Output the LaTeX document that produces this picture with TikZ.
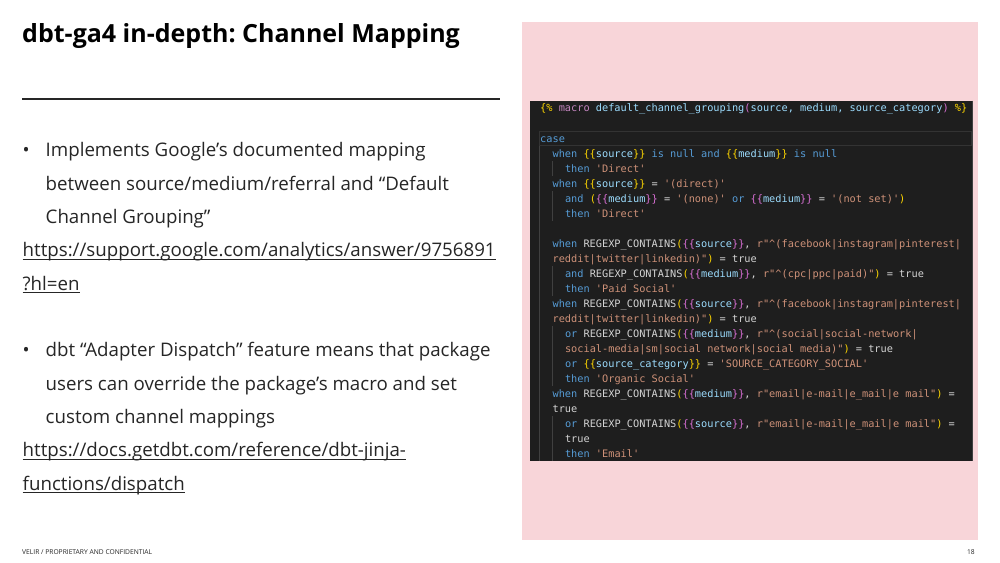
\documentclass[tikz,border=0pt]{standalone}
\usepackage{fontspec}
\setmainfont{Open Sans}
\newfontfamily\codefont{DejaVu Sans Mono}
\frenchspacing
\definecolor{pinkbg}{RGB}{248,213,217}
\definecolor{codebg}{HTML}{1E1E1E}
\definecolor{guide}{HTML}{404040}
\definecolor{bodytxt}{HTML}{262626}
\definecolor{ckwc}{HTML}{569CD6}
\definecolor{cvarc}{HTML}{9CDCFE}
\definecolor{cstrc}{HTML}{CE9178}
\definecolor{cylc}{HTML}{FFD700}
\definecolor{cmgc}{HTML}{DA70D6}
\definecolor{cwtc}{HTML}{D4D4D4}
\definecolor{cmacc}{HTML}{C586C0}
\newcommand{\ckw}[1]{\textcolor{ckwc}{#1}}
\newcommand{\cvar}[1]{\textcolor{cvarc}{#1}}
\newcommand{\cstr}[1]{\textcolor{cstrc}{#1}}
\newcommand{\cyl}[1]{\textcolor{cylc}{#1}}
\newcommand{\cmg}[1]{\textcolor{cmgc}{#1}}
\newcommand{\cwt}[1]{\textcolor{cwtc}{#1}}
\newcommand{\cmac}[1]{\textcolor{cmacc}{#1}}
\newcommand{\sq}{\textquotesingle}
\newcommand{\dq}{\textquotedbl}
\newcommand{\crt}{\textasciicircum}
\newcommand{\ob}{\{\{}
\newcommand{\cb}{\}\}}
\newcommand{\rgx}{REGEXP\_CONTAINS}
\tikzset{
  codeline/.style={anchor=base west, inner sep=0pt, text=cwtc,
    font=\codefont\fontsize{10.28}{12}\selectfont},
  bodyline/.style={anchor=base west, inner sep=0pt, text=bodytxt,
    font=\fontsize{18.7}{22}\selectfont},
  bulletdot/.style={anchor=base west, inner sep=0pt, text=bodytxt,
    font=\fontsize{18.7}{22}\selectfont},
  uline/.style={draw=bodytxt, line width=0.9pt},
  footline/.style={inner sep=0pt, text=bodytxt, font=\fontsize{6.7}{8}\selectfont},
}
\begin{document}
\begin{tikzpicture}[x=1pt,y=-1pt]
\useasboundingbox (0,0) rectangle (1000,562);
\fill[white] (0,0) rectangle (1000,562);
% pink panel and code panel
\fill[pinkbg] (522,22) rectangle (978,540);
\fill[codebg] (529.5,100.5) rectangle (972.5,461);
\draw[guide, line width=0.6pt] (971.8,100.5) -- (971.8,461);
\draw[guide!80!black, line width=0.6pt] (539.6,131) rectangle (971.5,145.5);
\draw[guide, line width=0.6pt] (539.6,145.5) -- (539.6,461);
\foreach \a/\b in {161/176, 191/221, 266/296, 326/386, 416/461}
  \draw[guide, line width=0.6pt] (552.6,\a) -- (552.6,\b);
% title
\node[anchor=base west, inner sep=0pt, font=\bfseries\fontsize{25}{30}\selectfont] (title) at (22,42.7) {dbt-ga4 in-depth: Channel Mapping};
\coordinate (ruleL) at (22,99);
\coordinate (ruleR) at (500,99);
\draw[line width=1.6pt, black!85] (ruleL) -- (ruleR);
% left body
\node[bulletdot] (d1) at (22.5,156.7) {•};
\node[bodyline] (t1) at (45.5,156.7) {Implements Google’s documented mapping};
\node[bodyline] (t2) at (45.5,190) {between source/medium/referral and “Default};
\node[bodyline] (t3) at (45.5,223.3) {Channel Grouping”};
\node[bodyline] (u1) at (22.5,256.7) {https://support.google.com/analytics/answer/9756891};
\node[bodyline] (u2) at (22.5,290) {?hl=en};
\node[bulletdot] (d2) at (22.5,356.7) {•};
\node[bodyline] (t4) at (45.5,356.7) {dbt “Adapter Dispatch” feature means that package};
\node[bodyline] (t5) at (45.5,390) {users can override the package’s macro and set};
\node[bodyline] (t6) at (45.5,423.3) {custom channel mappings};
\node[bodyline] (u3) at (22.5,456.7) {https://docs.getdbt.com/reference/dbt-jinja-};
\node[bodyline] (u4) at (22.5,490) {functions/dispatch};
\foreach \n in {u1,u2,u3,u4}
  \draw[uline] ([yshift=-2.3pt]\n.base west) -- ([yshift=-2.3pt]\n.base east);
% footer
\node[footline, anchor=base west] (foot) at (22,554.5) {VELIR / PROPRIETARY AND CONFIDENTIAL};
\node[footline, anchor=base east] (pg) at (975,554.5) {18};
% code
\node[codeline] (c0) at (540,111.5) {\cyl{\{\%} \cmac{macro} \cvar{default\_channel\_grouping}\cmg{(}\cvar{source, medium, source\_category}\cmg{)} \cyl{\%\}}};
\node[codeline] (c1) at (540,142) {\ckw{case}};
\node[codeline] (c2) at (552.4,157) {\ckw{when} \cyl{\ob}\cvar{source}\cyl{\cb} \ckw{is null and} \cyl{\ob}\cvar{medium}\cyl{\cb} \ckw{is null}};
\node[codeline] (c3) at (564.8,172) {\ckw{then} \cstr{\sq Direct\sq}};
\node[codeline] (c4) at (552.4,187) {\ckw{when} \cyl{\ob}\cvar{source}\cyl{\cb} = \cstr{\sq(direct)\sq}};
\node[codeline] (c5) at (564.8,202) {\ckw{and} \cyl{(}\cmg{\ob}\cvar{medium}\cmg{\cb} = \cstr{\sq(none)\sq} \ckw{or} \cmg{\ob}\cvar{medium}\cmg{\cb} = \cstr{\sq(not set)\sq}\cyl{)}};
\node[codeline] (c6) at (564.8,217) {\ckw{then} \cstr{\sq Direct\sq}};
\node[codeline] (c7) at (552.4,247) {\ckw{when} \rgx\cyl{(}\cmg{\ob}\cvar{source}\cmg{\cb}, \cstr{r\dq\crt(facebook|instagram|pinterest|}};
\node[codeline] (c8) at (552.4,262) {\cstr{reddit|twitter|linkedin)\dq}\cyl{)} = true};
\node[codeline] (c9) at (564.8,277) {\ckw{and} \rgx\cyl{(}\cmg{\ob}\cvar{medium}\cmg{\cb}, \cstr{r\dq\crt(cpc|ppc|paid)\dq}\cyl{)} = true};
\node[codeline] (c10) at (564.8,292) {\ckw{then} \cstr{\sq Paid Social\sq}};
\node[codeline] (c11) at (552.4,307) {\ckw{when} \rgx\cyl{(}\cmg{\ob}\cvar{source}\cmg{\cb}, \cstr{r\dq\crt(facebook|instagram|pinterest|}};
\node[codeline] (c12) at (552.4,322) {\cstr{reddit|twitter|linkedin)\dq}\cyl{)} = true};
\node[codeline] (c13) at (564.8,337) {\ckw{or} \rgx\cyl{(}\cmg{\ob}\cvar{medium}\cmg{\cb}, \cstr{r\dq\crt(social|social-network|}};
\node[codeline] (c14) at (564.8,352) {\cstr{social-media|sm|social network|social media)\dq}\cyl{)} = true};
\node[codeline] (c15) at (564.8,367) {\ckw{or} \cyl{\ob}\cvar{source\_category}\cyl{\cb} = \cstr{\sq SOURCE\_CATEGORY\_SOCIAL\sq}};
\node[codeline] (c16) at (564.8,382) {\ckw{then} \cstr{\sq Organic Social\sq}};
\node[codeline] (c17) at (552.4,397) {\ckw{when} \rgx\cyl{(}\cmg{\ob}\cvar{medium}\cmg{\cb}, \cstr{r\dq email|e-mail|e\_mail|e mail\dq}\cyl{)} =};
\node[codeline] (c18) at (552.4,412) {true};
\node[codeline] (c19) at (564.8,427) {\ckw{or} \rgx\cyl{(}\cmg{\ob}\cvar{source}\cmg{\cb}, \cstr{r\dq email|e-mail|e\_mail|e mail\dq}\cyl{)} =};
\node[codeline] (c20) at (564.8,442) {true};
\node[codeline] (c21) at (564.8,457) {\ckw{then} \cstr{\sq Email\sq}};
\end{tikzpicture}
\end{document}
